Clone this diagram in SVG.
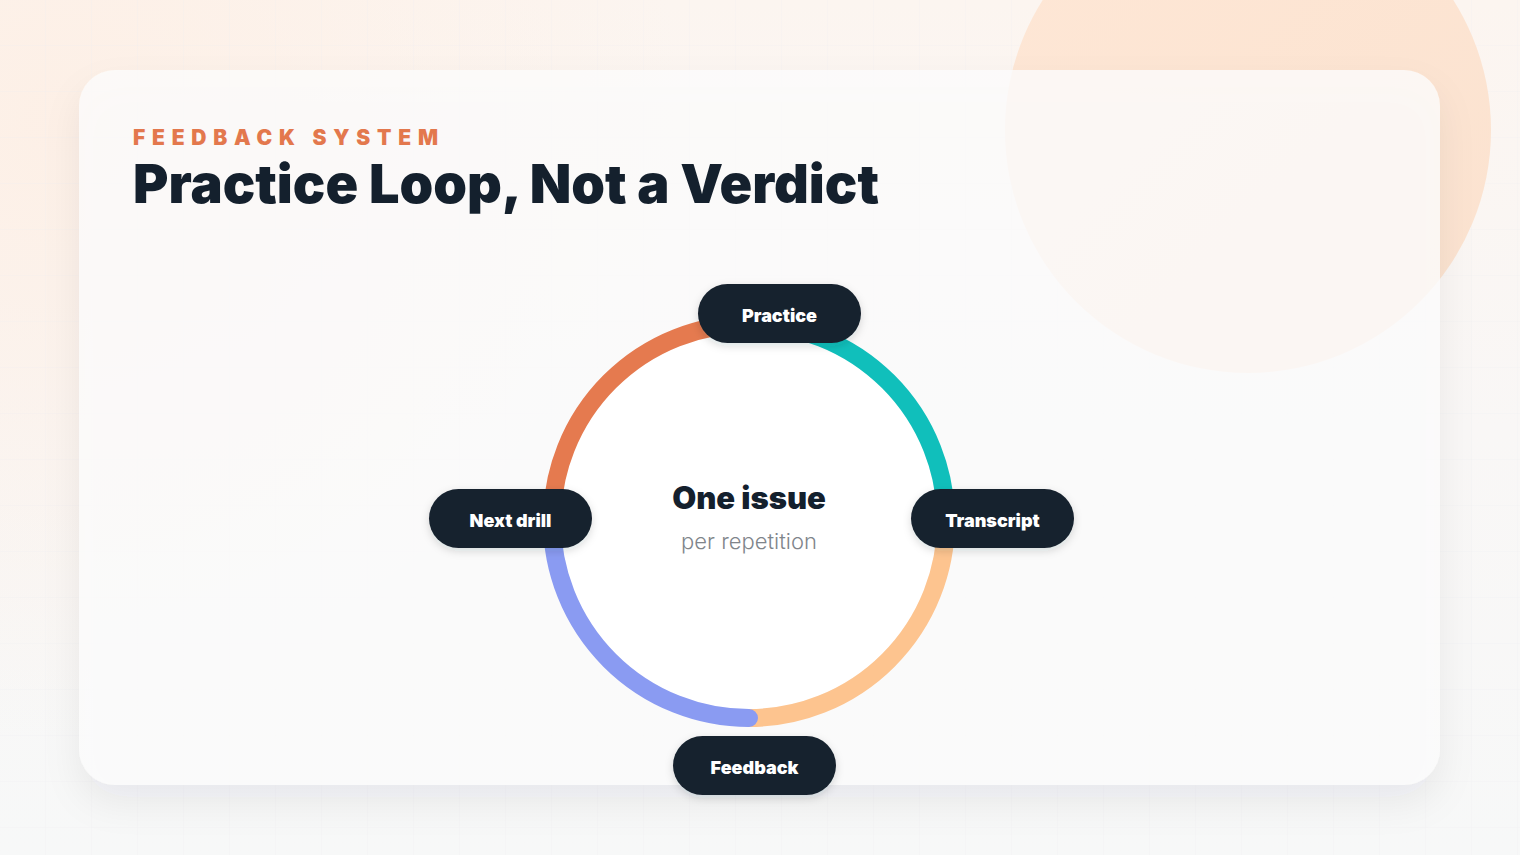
<svg xmlns="http://www.w3.org/2000/svg" width="1520" height="855" viewBox="0 0 1520 855">
  <defs>
    <linearGradient id="bgGrad" x1="0" y1="0" x2="0" y2="1">
      <stop offset="0" stop-color="#fcf5f0"/>
      <stop offset="0.5" stop-color="#f9f7f6"/>
      <stop offset="1" stop-color="#f7f8f8"/>
    </linearGradient>
    <radialGradient id="glowTL" cx="60" cy="120" r="620" gradientUnits="userSpaceOnUse">
      <stop offset="0" stop-color="#fdefe5" stop-opacity="0.9"/>
      <stop offset="1" stop-color="#fdefe5" stop-opacity="0"/>
    </radialGradient>
    <linearGradient id="peachGrad" x1="0" y1="0" x2="1" y2="1">
      <stop offset="0" stop-color="#fee7d6"/>
      <stop offset="1" stop-color="#fbe2cf"/>
    </linearGradient>
    <pattern id="grid" width="46" height="46" patternUnits="userSpaceOnUse">
      <path d="M46 0 V46 M0 46 H46" fill="none" stroke="#e9ecee" stroke-width="1" opacity="0.4"/>
    </pattern>
    <filter id="cardShadow" x="-10%" y="-10%" width="120%" height="130%">
      <feDropShadow dx="0" dy="18" stdDeviation="18" flood-color="#1b2a3a" flood-opacity="0.08"/>
    </filter>
    <filter id="pillShadow" x="-20%" y="-30%" width="140%" height="170%">
      <feDropShadow dx="0" dy="3" stdDeviation="4" flood-color="#15202d" flood-opacity="0.15"/>
    </filter>
    <style>
      .pill { fill: #15202d; }
      .pill-text { font-family: Inter, "Noto Sans", sans-serif; font-weight: 900; font-size: 18px; fill: #ffffff; text-anchor: middle; }
      .arc { fill: none; stroke-width: 18; stroke-linecap: round; }
    </style>
  </defs>

  <!-- background -->
  <rect x="0" y="0" width="1520" height="855" fill="url(#bgGrad)"/>
  <rect x="0" y="0" width="1520" height="855" fill="url(#glowTL)"/>
  <rect x="0" y="0" width="1520" height="855" fill="url(#grid)"/>
  <circle cx="1248" cy="130" r="243" fill="url(#peachGrad)"/>

  <!-- card -->
  <rect x="79" y="70" width="1361" height="715" rx="36" fill="#fdfdfd" fill-opacity="0.8" filter="url(#cardShadow)"/>

  <!-- header -->
  <g id="header">
    <text x="133" y="145" font-family="Inter, 'Noto Sans', sans-serif" font-weight="900" font-size="21" letter-spacing="7" textLength="312" lengthAdjust="spacing" fill="#e3784d">FEEDBACK SYSTEM</text>
    <text x="133" y="203" font-family="Inter, 'Noto Sans', sans-serif" font-weight="900" font-size="54" textLength="746" lengthAdjust="spacingAndGlyphs" fill="#14202d">Practice Loop, Not a Verdict</text>
  </g>

  <!-- ring center -->
  <g id="center">
    <circle cx="749" cy="521" r="188" fill="#ffffff"/>
    <text x="749" y="509" text-anchor="middle" font-family="Inter, 'Noto Sans', sans-serif" font-weight="900" font-size="31" fill="#14202d">One issue</text>
    <text x="749" y="549" text-anchor="middle" font-family="Inter, 'Noto Sans', sans-serif" font-weight="300" font-size="22" fill="#80858b">per repetition</text>
  </g>

  <!-- connectors (ring arcs) -->
  <g id="connectors">
    <path class="arc" stroke="#e57a4f" d="M552 521 A197 197 0 0 1 749 324"/>
    <path class="arc" stroke="#10bfbb" d="M749 324 A197 197 0 0 1 946 521"/>
    <path class="arc" stroke="#fdc48f" d="M946 521 A197 197 0 0 1 749 718"/>
    <path class="arc" stroke="#8a9bf2" d="M749 718 A197 197 0 0 1 552 521"/>
  </g>

  <!-- nodes -->
  <g id="node-practice">
    <rect class="pill" x="698" y="284" width="163" height="59" rx="29.5" filter="url(#pillShadow)"/>
    <text class="pill-text" x="779.5" y="322">Practice</text>
  </g>
  <g id="node-transcript">
    <rect class="pill" x="911" y="489" width="163" height="59" rx="29.5" filter="url(#pillShadow)"/>
    <text class="pill-text" x="992.5" y="527">Transcript</text>
  </g>
  <g id="node-feedback">
    <rect class="pill" x="673" y="736" width="163" height="59" rx="29.5" filter="url(#pillShadow)"/>
    <text class="pill-text" x="754.5" y="774">Feedback</text>
  </g>
  <g id="node-next-drill">
    <rect class="pill" x="429" y="489" width="163" height="59" rx="29.5" filter="url(#pillShadow)"/>
    <text class="pill-text" x="510.5" y="527">Next drill</text>
  </g>
</svg>
